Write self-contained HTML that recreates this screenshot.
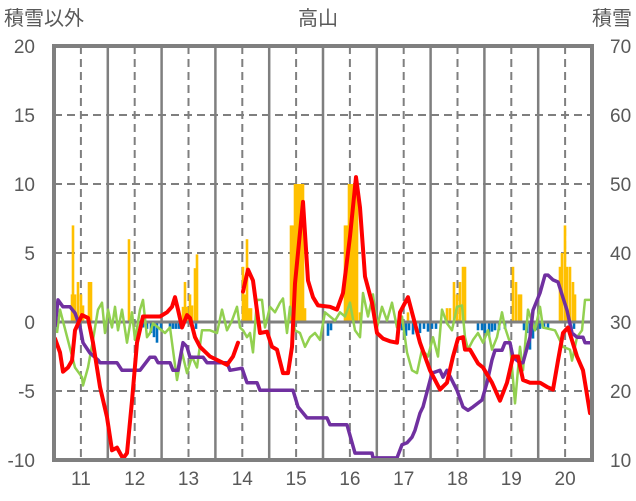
<!DOCTYPE html>
<html><head><meta charset="utf-8"><style>
html,body{margin:0;padding:0;background:#fff;}
svg{display:block;font-family:"Liberation Sans","Noto Sans CJK JP",sans-serif;}
</style></head><body>
<svg id="chart" width="636" height="501" viewBox="0 0 636 501" xmlns="http://www.w3.org/2000/svg">
<text x="4" y="25" font-size="20" fill="#595959">積雪以外</text>
<text x="318" y="25" font-size="20" fill="#595959" text-anchor="middle">高山</text>
<text x="632" y="25" font-size="20" fill="#595959" text-anchor="end">積雪</text>
<g id="grid"></g><g id="bars"></g><g id="lines"></g><g id="axes"></g>
</svg>
<script>
const xTickLabels=["11","12","13","14","15","16","17","18","19","20"];
const leftTicks=[-10,-5,0,5,10,15,20];
const rightTicks=[10,20,30,40,50,60,70];
const redSeries=[[1,-1.2],[6,-2.2],[9,-3.6],[14,-3.3],[18,-2.8],[21,-0.6],[28,0.5],[34,0.3],[39,-1.5],[46,-4.7],[53,-6.9],[58,-9.3],[63,-9.1],[69,-9.9],[73,-9.5],[78,-5.7],[83,-1.5],[89,0.4],[96,0.4],[106,0.4],[113,0.7],[118,1.1],[121,1.8],[124,0.9],[128,-0.4],[133,0.5],[136,0.3],[141,-1.1],[146,-1.8],[156,-2.5],[173,-3.1],[179,-2.5],[184,-1.5],null,[189,2.2],[194,3.8],[199,3.0],[206,-0.8],[213,-0.7],[218,-1.8],[223,-2.0],[229,-3.7],[234,-3.7],[238,-1.8],[241,2.8],[249,8.7],[254,3.0],[259,1.8],[264,1.2],[276,1.1],[283,0.9],[289,2.1],[296,6.2],[302,10.5],[306,8.3],[311,3.3],[318,1.4],[323,-0.8],[329,-1.2],[336,-1.4],[343,-1.5],[346,0.7],[354,1.8],[366,-1.5],[376,-3.5],[386,-4.9],[393,-4.4],[399,-2.5],[404,-1.2],[409,-1.1],[411,-2.0],[416,-2.0],[424,-3.0],[429,-3.3],[438,-4.4],[446,-5.7],[453,-4.4],[459,-2.5],[464,-2.5],[469,-4.2],[476,-4.4],[486,-4.4],[493,-4.7],[499,-4.9],[504,-2.8],[509,-0.8],[514,-0.4],[523,-2.5],[529,-3.5],[536,-6.6]];
const purpleSeries=[[1,29.3],[4,33.2],[9,32.2],[16,32.2],[21,31.3],[26,29.3],[29,27.0],[36,25.5],[44,24.5],[46,24.1],[63,24.1],[68,23.0],[86,23.0],[96,24.9],[101,24.9],[104,24.1],[116,24.1],[119,23.0],[124,23.0],[129,27.0],[133,26.4],[136,24.9],[149,24.9],[153,24.1],[173,24.1],[176,23.0],[188,23.3],[193,21.2],[203,21.2],[206,20.1],[239,20.1],[244,17.7],[253,16.1],[273,16.1],[276,15.1],[293,15.1],[301,11.0],[318,11.0],[319,10.3],[343,10.3],[348,12.2],[353,12.5],[358,13.3],[361,14.3],[366,16.8],[369,17.7],[378,22.6],[386,23.0],[389,22.0],[393,23.0],[403,20.1],[409,17.7],[414,17.2],[419,17.7],[428,18.7],[433,21.2],[438,24.5],[441,25.9],[448,25.9],[451,27.0],[456,27.0],[459,24.9],[466,24.1],[469,24.1],[476,27.8],[479,31.7],[486,34.2],[491,36.8],[494,36.8],[499,36.1],[504,35.8],[513,31.7],[518,28.4],[523,27.8],[529,27.8],[531,27.0],[536,27.0]];
const greenSeries=[[3,-0.8],[6,0.9],[21,-3.3],[28,-4.0],[29,-4.6],[34,-3.3],[39,-1.3],[44,0.9],[48,1.4],[51,-0.8],[54,0.9],[58,-0.4],[61,1.1],[64,-0.6],[68,0.9],[73,-1.5],[78,0.7],[81,-1.3],[86,0.9],[89,1.6],[93,-1.1],[96,-0.8],[99,-0.1],[111,-0.8],[116,-0.4],[123,-4.2],[128,-2.2],[133,-3.7],[138,-2.5],[143,-3.3],[148,-0.6],[156,-0.6],[163,-0.8],[168,0.9],[173,-0.6],[178,0.1],[183,1.1],[186,-0.4],[189,-0.6],[193,-1.1],[196,-0.8],[199,-2.2],[203,1.6],[208,1.6],[211,-0.4],[216,1.1],[221,0.7],[226,1.4],[229,1.7],[233,-0.8],[236,1.1],[241,-0.6],[246,-0.8],[251,-1.8],[256,-1.1],[261,-0.8],[266,-1.3],[271,0.7],[276,0.4],[281,0.1],[286,0.7],[291,0.4],[296,1.4],[301,-0.6],[306,-1.1],[309,2.1],[314,0.4],[319,2.0],[323,-0.4],[328,1.1],[333,0.1],[338,1.4],[343,-0.4],[348,0.4],[353,-2.2],[358,-3.5],[363,-3.7],[368,-2.0],[374,-2.5],[379,-1.1],[384,-2.5],[388,0.9],[393,-0.1],[398,-0.6],[403,1.1],[408,1.2],[411,-1.1],[414,-2.0],[419,-1.3],[424,-0.8],[429,-1.5],[434,-0.6],[438,-2.0],[443,-1.1],[448,0.7],[451,-0.4],[456,-1.5],[461,-5.9],[466,-1.8],[469,-3.5],[474,0.9],[481,-0.6],[486,1.1],[489,-0.4],[501,-0.6],[509,-1.8],[516,-2.0],[518,-2.8],[523,-1.1],[528,-0.6],[531,1.6],[536,1.6]];
const orangeBars=[[18,2.0],[19,7.0],[21,2.0],[24,2.9],[27,2.0],[29,1.2],[35,2.9],[37,2.9],[75,6.0],[129,1.1],[131,2.9],[133,1.1],[136,2.0],[138,1.2],[141,3.9],[143,4.9],[189,4.0],[191,2.0],[193,6.0],[195,1.0],[197,1.0],[237,7.0],[239,7.0],[241,10],[243,10],[245,10],[247,10],[249,10],[251,1.0],[291,7.0],[293,7.0],[295,10],[297,10],[299,10],[301,10],[303,10],[306,0.7],[354,0.7],[393,1.0],[396,1.0],[400,2.9],[403,2.0],[406,2.9],[409,4.0],[411,4.0],[459,4.0],[462,2.9],[465,2.0],[467,2.0],[506,4.0],[508,5.0],[511,7.0],[513,4.0],[516,4.0],[519,2.9],[521,2.0]];
const blueBars=[[1,-0.8],[89,-0.4],[93,-0.5],[97,-0.8],[100,-1.1],[103,-1.5],[107,-0.6],[116,-0.5],[119,-0.5],[122,-0.5],[125,-0.5],[142,-0.5],[274,-1.0],[277,-0.6],[348,-0.6],[352,-1.0],[355,-0.6],[359,-0.9],[362,-0.5],[366,-0.8],[370,-0.5],[374,-0.7],[378,-0.5],[382,-0.5],[424,-0.6],[428,-0.6],[431,-0.8],[435,-1.0],[438,-0.7],[441,-0.6],[445,-0.6],[451,-0.5],[470,-0.6],[473,-0.8],[476,-2.0],[479,-1.2],[482,-0.6],[486,-0.5],[490,-0.5],[494,-0.5],[520,-0.5]];

const NS="http://www.w3.org/2000/svg";
const PL=54,PR=592,PT=46,PB=460,DMAX=538;
function xs(d){return PL+d*(PR-PL)/DMAX;}
function yl(v){return PB-(v+10)*(PB-PT)/30;}
function yr(v){return PB-(v-10)*(PB-PT)/60;}
function mk(tag,attrs,parent){const e=document.createElementNS(NS,tag);for(const k in attrs)e.setAttribute(k,attrs[k]);parent.appendChild(e);return e;}
const grid=document.getElementById('grid'),bars=document.getElementById('bars'),lines=document.getElementById('lines'),axes=document.getElementById('axes');
const cw=(PR-PL)/xTickLabels.length;
leftTicks.forEach(v=>{
  if(v===-10||v===20||v===0)return;
  const l=mk('line',{x1:PL,x2:PR,y1:yl(v),y2:yl(v),stroke:'#7f7f7f','stroke-width':2,'stroke-dasharray':'8,5'},grid);
  
  
});
xTickLabels.forEach((lab,i)=>{
  const cx=PL+cw*(i+0.5);
  const d=mk('line',{x1:cx,x2:cx,y1:PT,y2:PB,stroke:'#7f7f7f','stroke-width':2,'stroke-dasharray':'8,5'},grid);
  
  
  if(i>0){const s=mk('line',{x1:PL+cw*i,x2:PL+cw*i,y1:PT,y2:PB,stroke:'#7f7f7f','stroke-width':2.5},grid);
  
  }
  const t=mk('text',{x:cx,y:485,'font-size':19,fill:'#595959','text-anchor':'middle'},axes);
  t.textContent=lab;
  
  
});
const bw=2.6;
orangeBars.forEach(b=>{
  const r=mk('rect',{x:xs(b[0])-bw/2,y:yl(b[1]),width:bw,height:yl(0)-yl(b[1]),fill:'#ffc000'},bars);
  
  
});
blueBars.forEach(b=>{
  const r=mk('rect',{x:xs(b[0])-bw/2,y:yl(0),width:bw,height:yl(b[1])-yl(0),fill:'#0070c0'},bars);
  
  
});
const zl=mk('line',{x1:PL,x2:PR,y1:yl(0),y2:yl(0),stroke:'#7f7f7f','stroke-width':3},bars);


function path(series,yf){let s='',pen=false;series.forEach(p=>{if(!p){pen=false;return;}s+=(pen?'L':'M')+xs(p[0]).toFixed(1)+','+yf(p[1]).toFixed(1);pen=true;});return s;}
const g=mk('path',{d:path(greenSeries,yl),fill:'none',stroke:'#92d050','stroke-width':2.5,'stroke-linejoin':'round'},lines);


const p=mk('path',{d:path(purpleSeries,yr),fill:'none',stroke:'#7030a0','stroke-width':3.5,'stroke-linejoin':'round'},lines);


const r=mk('path',{d:path(redSeries,yl),fill:'none',stroke:'#ff0000','stroke-width':4,'stroke-linejoin':'round','stroke-linecap':'round'},lines);


const fr=mk('rect',{x:PL,y:PT,width:PR-PL,height:PB-PT,fill:'none',stroke:'#7f7f7f','stroke-width':4},axes);


leftTicks.forEach(v=>{
  const t=mk('text',{x:35,y:yl(v)+7,'font-size':19,fill:'#595959','text-anchor':'end'},axes);
  t.textContent=v;
  
  
});
rightTicks.forEach(v=>{
  const t=mk('text',{x:610,y:yr(v)+7,'font-size':19,fill:'#595959'},axes);
  t.textContent=v;
  
  
});
</script>
</body></html>
